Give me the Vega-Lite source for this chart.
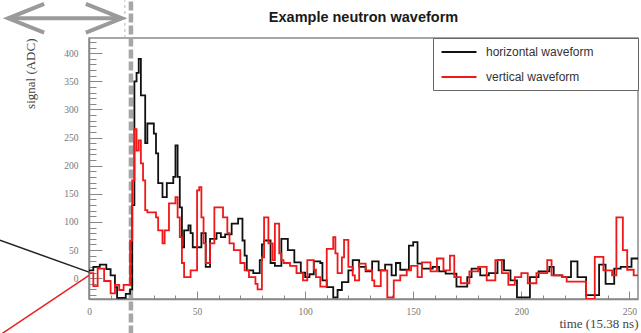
{
"$schema":"https://vega.github.io/schema/vega-lite/v6.json",
"width":549,"height":261,
"autosize":{"type":"none"},
"padding":{"left":89,"top":38,"right":3,"bottom":34},
"background":"white",
"title":{"text":"Example neutron waveform","font":"Liberation Sans","fontSize":14.5,"fontWeight":"bold","color":"#1a1a1a","anchor":"middle","frame":"group","baseline":"alphabetic","offset":0,"dy":41},
"config":{"view":{"stroke":"#8a8a8a","strokeWidth":1.5},"axis":{"grid":false,"labelOverlap":false,"labelBound":false,"labelFlush":false}},
"layer":[
{"data":{"values":[{"t":19.4,"y1":-100,"y2":494}]},
 "mark":{"type":"rule","clip":false,"color":"#a6a6a6","strokeWidth":4.5,"strokeDash":[9,3]},
 "encoding":{"x":{"field":"t","type":"quantitative","scale":{"domain":[0,254],"nice":false,"zero":false}},
  "y":{"field":"y1","type":"quantitative","scale":{"domain":[-37,427],"nice":false,"zero":false}},
  "y2":{"field":"y2"}}},
{"data":{"values":[{"t":16.6,"y1":427,"y2":494}]},
 "mark":{"type":"rule","clip":false,"color":"#b8b8b8","strokeWidth":1,"strokeDash":[3,3]},
 "encoding":{"x":{"field":"t","type":"quantitative","scale":{"domain":[0,254],"nice":false,"zero":false}},
  "y":{"field":"y1","type":"quantitative","scale":{"domain":[-37,427],"nice":false,"zero":false}},
  "y2":{"field":"y2"}}},
{"data":{"values":[
{"t":0,"adc":14,"s":"horizontal waveform"},{"t":2,"adc":20,"s":"horizontal waveform"},{"t":5,"adc":24,"s":"horizontal waveform"},{"t":8,"adc":16,"s":"horizontal waveform"},{"t":10,"adc":5,"s":"horizontal waveform"},{"t":12,"adc":-16,"s":"horizontal waveform"},{"t":13,"adc":-35,"s":"horizontal waveform"},{"t":17,"adc":-28,"s":"horizontal waveform"},{"t":19,"adc":-20,"s":"horizontal waveform"},{"t":20,"adc":130,"s":"horizontal waveform"},{"t":21,"adc":350,"s":"horizontal waveform"},{"t":22,"adc":365,"s":"horizontal waveform"},{"t":23,"adc":390,"s":"horizontal waveform"},{"t":24,"adc":325,"s":"horizontal waveform"},{"t":26,"adc":240,"s":"horizontal waveform"},{"t":27,"adc":275,"s":"horizontal waveform"},{"t":30,"adc":257,"s":"horizontal waveform"},{"t":31,"adc":222,"s":"horizontal waveform"},{"t":32,"adc":169,"s":"horizontal waveform"},{"t":34,"adc":144,"s":"horizontal waveform"},{"t":36,"adc":169,"s":"horizontal waveform"},{"t":39,"adc":180,"s":"horizontal waveform"},{"t":40,"adc":236,"s":"horizontal waveform"},{"t":41,"adc":180,"s":"horizontal waveform"},{"t":42,"adc":126,"s":"horizontal waveform"},{"t":43,"adc":55,"s":"horizontal waveform"},{"t":44,"adc":85,"s":"horizontal waveform"},{"t":46,"adc":94,"s":"horizontal waveform"},{"t":47,"adc":80,"s":"horizontal waveform"},{"t":48,"adc":55,"s":"horizontal waveform"},{"t":52,"adc":80,"s":"horizontal waveform"},{"t":54,"adc":20,"s":"horizontal waveform"},{"t":56,"adc":70,"s":"horizontal waveform"},{"t":59,"adc":80,"s":"horizontal waveform"},{"t":61,"adc":73,"s":"horizontal waveform"},{"t":63,"adc":78,"s":"horizontal waveform"},{"t":66,"adc":97,"s":"horizontal waveform"},{"t":69,"adc":106,"s":"horizontal waveform"},{"t":71,"adc":67,"s":"horizontal waveform"},{"t":72,"adc":40,"s":"horizontal waveform"},{"t":73,"adc":14,"s":"horizontal waveform"},{"t":76,"adc":9,"s":"horizontal waveform"},{"t":79,"adc":32,"s":"horizontal waveform"},{"t":80,"adc":60,"s":"horizontal waveform"},{"t":81,"adc":67,"s":"horizontal waveform"},{"t":84,"adc":27,"s":"horizontal waveform"},{"t":86,"adc":22,"s":"horizontal waveform"},{"t":89,"adc":70,"s":"horizontal waveform"},{"t":92,"adc":50,"s":"horizontal waveform"},{"t":95,"adc":28,"s":"horizontal waveform"},{"t":98,"adc":10,"s":"horizontal waveform"},{"t":100,"adc":2,"s":"horizontal waveform"},{"t":102,"adc":7,"s":"horizontal waveform"},{"t":104,"adc":30,"s":"horizontal waveform"},{"t":107,"adc":27,"s":"horizontal waveform"},{"t":108,"adc":-4,"s":"horizontal waveform"},{"t":110,"adc":-16,"s":"horizontal waveform"},{"t":113,"adc":-34,"s":"horizontal waveform"},{"t":115,"adc":-21,"s":"horizontal waveform"},{"t":117,"adc":-7,"s":"horizontal waveform"},{"t":120,"adc":14,"s":"horizontal waveform"},{"t":122,"adc":32,"s":"horizontal waveform"},{"t":125,"adc":20,"s":"horizontal waveform"},{"t":128,"adc":12,"s":"horizontal waveform"},{"t":131,"adc":30,"s":"horizontal waveform"},{"t":134,"adc":14,"s":"horizontal waveform"},{"t":137,"adc":24,"s":"horizontal waveform"},{"t":140,"adc":5,"s":"horizontal waveform"},{"t":142,"adc":27,"s":"horizontal waveform"},{"t":144,"adc":15,"s":"horizontal waveform"},{"t":148,"adc":58,"s":"horizontal waveform"},{"t":150,"adc":64,"s":"horizontal waveform"},{"t":152,"adc":26,"s":"horizontal waveform"},{"t":154,"adc":17,"s":"horizontal waveform"},{"t":159,"adc":20,"s":"horizontal waveform"},{"t":162,"adc":12,"s":"horizontal waveform"},{"t":165,"adc":8,"s":"horizontal waveform"},{"t":170,"adc":-15,"s":"horizontal waveform"},{"t":175,"adc":2,"s":"horizontal waveform"},{"t":177,"adc":17,"s":"horizontal waveform"},{"t":181,"adc":5,"s":"horizontal waveform"},{"t":185,"adc":9,"s":"horizontal waveform"},{"t":189,"adc":32,"s":"horizontal waveform"},{"t":192,"adc":14,"s":"horizontal waveform"},{"t":195,"adc":-4,"s":"horizontal waveform"},{"t":198,"adc":-34,"s":"horizontal waveform"},{"t":204,"adc":2,"s":"horizontal waveform"},{"t":208,"adc":12,"s":"horizontal waveform"},{"t":213,"adc":20,"s":"horizontal waveform"},{"t":215,"adc":5,"s":"horizontal waveform"},{"t":219,"adc":2,"s":"horizontal waveform"},{"t":223,"adc":30,"s":"horizontal waveform"},{"t":226,"adc":2,"s":"horizontal waveform"},{"t":230,"adc":-30,"s":"horizontal waveform"},{"t":236,"adc":24,"s":"horizontal waveform"},{"t":239,"adc":-10,"s":"horizontal waveform"},{"t":243,"adc":17,"s":"horizontal waveform"},{"t":246,"adc":20,"s":"horizontal waveform"},{"t":251,"adc":35,"s":"horizontal waveform"},{"t":254,"adc":35,"s":"horizontal waveform"},
{"t":0,"adc":9,"s":"vertical waveform"},{"t":2,"adc":-14,"s":"vertical waveform"},{"t":4,"adc":17,"s":"vertical waveform"},{"t":7,"adc":-5,"s":"vertical waveform"},{"t":10,"adc":-27,"s":"vertical waveform"},{"t":12,"adc":-12,"s":"vertical waveform"},{"t":14,"adc":-21,"s":"vertical waveform"},{"t":16,"adc":-12,"s":"vertical waveform"},{"t":19,"adc":67,"s":"vertical waveform"},{"t":20,"adc":174,"s":"vertical waveform"},{"t":21,"adc":265,"s":"vertical waveform"},{"t":22,"adc":227,"s":"vertical waveform"},{"t":23,"adc":245,"s":"vertical waveform"},{"t":24,"adc":204,"s":"vertical waveform"},{"t":25,"adc":174,"s":"vertical waveform"},{"t":26,"adc":121,"s":"vertical waveform"},{"t":27,"adc":117,"s":"vertical waveform"},{"t":31,"adc":108,"s":"vertical waveform"},{"t":32,"adc":85,"s":"vertical waveform"},{"t":34,"adc":62,"s":"vertical waveform"},{"t":35,"adc":85,"s":"vertical waveform"},{"t":37,"adc":133,"s":"vertical waveform"},{"t":40,"adc":144,"s":"vertical waveform"},{"t":41,"adc":108,"s":"vertical waveform"},{"t":42,"adc":73,"s":"vertical waveform"},{"t":43,"adc":27,"s":"vertical waveform"},{"t":44,"adc":2,"s":"vertical waveform"},{"t":47,"adc":14,"s":"vertical waveform"},{"t":50,"adc":156,"s":"vertical waveform"},{"t":51,"adc":162,"s":"vertical waveform"},{"t":52,"adc":108,"s":"vertical waveform"},{"t":53,"adc":62,"s":"vertical waveform"},{"t":54,"adc":27,"s":"vertical waveform"},{"t":56,"adc":62,"s":"vertical waveform"},{"t":58,"adc":126,"s":"vertical waveform"},{"t":62,"adc":108,"s":"vertical waveform"},{"t":64,"adc":80,"s":"vertical waveform"},{"t":65,"adc":62,"s":"vertical waveform"},{"t":67,"adc":50,"s":"vertical waveform"},{"t":70,"adc":27,"s":"vertical waveform"},{"t":72,"adc":14,"s":"vertical waveform"},{"t":74,"adc":2,"s":"vertical waveform"},{"t":77,"adc":-10,"s":"vertical waveform"},{"t":78,"adc":-20,"s":"vertical waveform"},{"t":80,"adc":37,"s":"vertical waveform"},{"t":81,"adc":108,"s":"vertical waveform"},{"t":83,"adc":62,"s":"vertical waveform"},{"t":85,"adc":32,"s":"vertical waveform"},{"t":86,"adc":97,"s":"vertical waveform"},{"t":88,"adc":44,"s":"vertical waveform"},{"t":89,"adc":32,"s":"vertical waveform"},{"t":90,"adc":27,"s":"vertical waveform"},{"t":93,"adc":22,"s":"vertical waveform"},{"t":96,"adc":9,"s":"vertical waveform"},{"t":99,"adc":-4,"s":"vertical waveform"},{"t":101,"adc":32,"s":"vertical waveform"},{"t":104,"adc":15,"s":"vertical waveform"},{"t":105,"adc":2,"s":"vertical waveform"},{"t":107,"adc":-15,"s":"vertical waveform"},{"t":110,"adc":52,"s":"vertical waveform"},{"t":113,"adc":73,"s":"vertical waveform"},{"t":114,"adc":44,"s":"vertical waveform"},{"t":115,"adc":9,"s":"vertical waveform"},{"t":117,"adc":37,"s":"vertical waveform"},{"t":118,"adc":68,"s":"vertical waveform"},{"t":120,"adc":20,"s":"vertical waveform"},{"t":122,"adc":5,"s":"vertical waveform"},{"t":123,"adc":-4,"s":"vertical waveform"},{"t":125,"adc":26,"s":"vertical waveform"},{"t":128,"adc":14,"s":"vertical waveform"},{"t":131,"adc":-4,"s":"vertical waveform"},{"t":132,"adc":-14,"s":"vertical waveform"},{"t":135,"adc":14,"s":"vertical waveform"},{"t":138,"adc":-34,"s":"vertical waveform"},{"t":141,"adc":-4,"s":"vertical waveform"},{"t":144,"adc":5,"s":"vertical waveform"},{"t":147,"adc":14,"s":"vertical waveform"},{"t":149,"adc":22,"s":"vertical waveform"},{"t":152,"adc":2,"s":"vertical waveform"},{"t":154,"adc":28,"s":"vertical waveform"},{"t":158,"adc":12,"s":"vertical waveform"},{"t":161,"adc":35,"s":"vertical waveform"},{"t":164,"adc":14,"s":"vertical waveform"},{"t":167,"adc":40,"s":"vertical waveform"},{"t":169,"adc":2,"s":"vertical waveform"},{"t":172,"adc":-9,"s":"vertical waveform"},{"t":176,"adc":12,"s":"vertical waveform"},{"t":180,"adc":20,"s":"vertical waveform"},{"t":184,"adc":-4,"s":"vertical waveform"},{"t":188,"adc":32,"s":"vertical waveform"},{"t":191,"adc":9,"s":"vertical waveform"},{"t":194,"adc":-12,"s":"vertical waveform"},{"t":197,"adc":2,"s":"vertical waveform"},{"t":200,"adc":9,"s":"vertical waveform"},{"t":203,"adc":-9,"s":"vertical waveform"},{"t":207,"adc":9,"s":"vertical waveform"},{"t":212,"adc":32,"s":"vertical waveform"},{"t":214,"adc":5,"s":"vertical waveform"},{"t":219,"adc":2,"s":"vertical waveform"},{"t":221,"adc":-6,"s":"vertical waveform"},{"t":230,"adc":-37,"s":"vertical waveform"},{"t":234,"adc":38,"s":"vertical waveform"},{"t":238,"adc":14,"s":"vertical waveform"},{"t":242,"adc":5,"s":"vertical waveform"},{"t":244,"adc":108,"s":"vertical waveform"},{"t":247,"adc":50,"s":"vertical waveform"},{"t":249,"adc":15,"s":"vertical waveform"},{"t":252,"adc":5,"s":"vertical waveform"},{"t":254,"adc":5,"s":"vertical waveform"}
]},
 "mark":{"type":"line","interpolate":"step-after","strokeWidth":1.8,"clip":true},
 "encoding":{
  "x":{"field":"t","type":"quantitative","scale":{"domain":[0,254],"nice":false,"zero":false},
   "axis":{"values":[0,10,20,30,40,50,60,70,80,90,100,110,120,130,140,150,160,170,180,190,200,210,220,230,240,250],"tickCount":200,
    "labelExpr":"datum.value % 50 === 0 ? datum.label : ''","labelOverlap":false,
    "tickSize":{"condition":{"test":"datum.value % 50 === 0","value":-8},"value":-4},
    "tickColor":"#888","domainColor":"#888","domainWidth":1.5,
    "labelFont":"Liberation Serif","labelFontSize":9.5,"labelColor":"#777","labelPadding":15,
    "title":"time (15.38 ns)","titleFont":"Liberation Serif","titleFontSize":13,"titleFontWeight":"normal","titleColor":"#444",
    "titleAlign":"right","titleAnchor":"end","titleX":549,"titleY":24,"titleBaseline":"middle"}},
  "y":{"field":"adc","type":"quantitative","scale":{"domain":[-37,427],"nice":false,"zero":false},
   "axis":{"values":[-30,-20,-10,0,10,20,30,40,50,60,70,80,90,100,110,120,130,140,150,160,170,180,190,200,210,220,230,240,250,260,270,280,290,300,310,320,330,340,350,360,370,380,390,400,410,420],"tickCount":200,
    "labelExpr":"datum.value % 50 === 0 && datum.value >= 0 ? datum.label : ''","labelOverlap":false,
    "tickSize":{"condition":{"test":"datum.value % 50 === 0","value":-13},"value":-7},
    "tickColor":"#888","domainColor":"#888","domainWidth":1.5,
    "labelFont":"Liberation Serif","labelFontSize":9.5,"labelColor":"#777","labelPadding":24,
    "title":"signal (ADC)","titleFont":"Liberation Serif","titleFontSize":13,"titleFontWeight":"normal","titleColor":"#444",
    "titleAngle":-90,"titleAlign":"right","titleX":-59,"titleY":0,"titleBaseline":"middle"}},
  "color":{"field":"s","type":"nominal","scale":{"domain":["horizontal waveform","vertical waveform"],"range":["#111111","#f01818"]},
   "legend":{"title":null,"orient":"top-right","offset":0,"symbolType":"M-3,0H3","symbolSize":136,"symbolStrokeWidth":2,"symbolOffset":12,
    "labelFont":"Liberation Sans","labelFontSize":12,"labelColor":"#333","labelOffset":20,"strokeColor":"#666","fillColor":"white","padding":7,"rowPadding":12,"labelLimit":300,
    "labelExpr":"datum.label + '\u00a0\u00a0\u00a0\u00a0\u00a0\u00a0\u00a0\u00a0\u00a0\u00a0\u00a0\u200b'"}}
 }},
{"data":{"values":[{"x":-41.2,"y":67.5,"x2":0,"y2":10.7}]},
 "mark":{"type":"rule","clip":false,"color":"#222222","strokeWidth":1.5},
 "encoding":{"x":{"field":"x","type":"quantitative","scale":{"domain":[0,254],"nice":false,"zero":false}},"x2":{"field":"x2"},
  "y":{"field":"y","type":"quantitative","scale":{"domain":[-37,427],"nice":false,"zero":false}},"y2":{"field":"y2"}}},
{"data":{"values":[{"x":-41.2,"y":-101,"x2":0,"y2":5}]},
 "mark":{"type":"rule","clip":false,"color":"#e82020","strokeWidth":1.5},
 "encoding":{"x":{"field":"x","type":"quantitative","scale":{"domain":[0,254],"nice":false,"zero":false}},"x2":{"field":"x2"},
  "y":{"field":"y","type":"quantitative","scale":{"domain":[-37,427],"nice":false,"zero":false}},"y2":{"field":"y2"}}},
{"data":{"values":[{"x":-36.5,"y":462,"x2":14.3}]},
 "mark":{"type":"rule","clip":false,"color":"#9a9a9a","strokeWidth":4},
 "encoding":{"x":{"field":"x","type":"quantitative","scale":{"domain":[0,254],"nice":false,"zero":false}},"x2":{"field":"x2"},
  "y":{"field":"y","type":"quantitative","scale":{"domain":[-37,427],"nice":false,"zero":false}}}},
{"data":{"values":[{"x":-37.4,"y":462}]},
 "mark":{"type":"point","clip":false,"filled":false,"shape":"M1.5,-0.6L0,0L1.5,0.6","size":2304,"strokeWidth":4,"color":"#9a9a9a","opacity":1},
 "encoding":{"x":{"field":"x","type":"quantitative","scale":{"domain":[0,254],"nice":false,"zero":false}},
  "y":{"field":"y","type":"quantitative","scale":{"domain":[-37,427],"nice":false,"zero":false}}}},
{"data":{"values":[{"x":15.2,"y":462}]},
 "mark":{"type":"point","clip":false,"filled":false,"shape":"M-1.5,-0.6L0,0L-1.5,0.6","size":2304,"strokeWidth":4,"color":"#9a9a9a","opacity":1},
 "encoding":{"x":{"field":"x","type":"quantitative","scale":{"domain":[0,254],"nice":false,"zero":false}},
  "y":{"field":"y","type":"quantitative","scale":{"domain":[-37,427],"nice":false,"zero":false}}}}
]
}
